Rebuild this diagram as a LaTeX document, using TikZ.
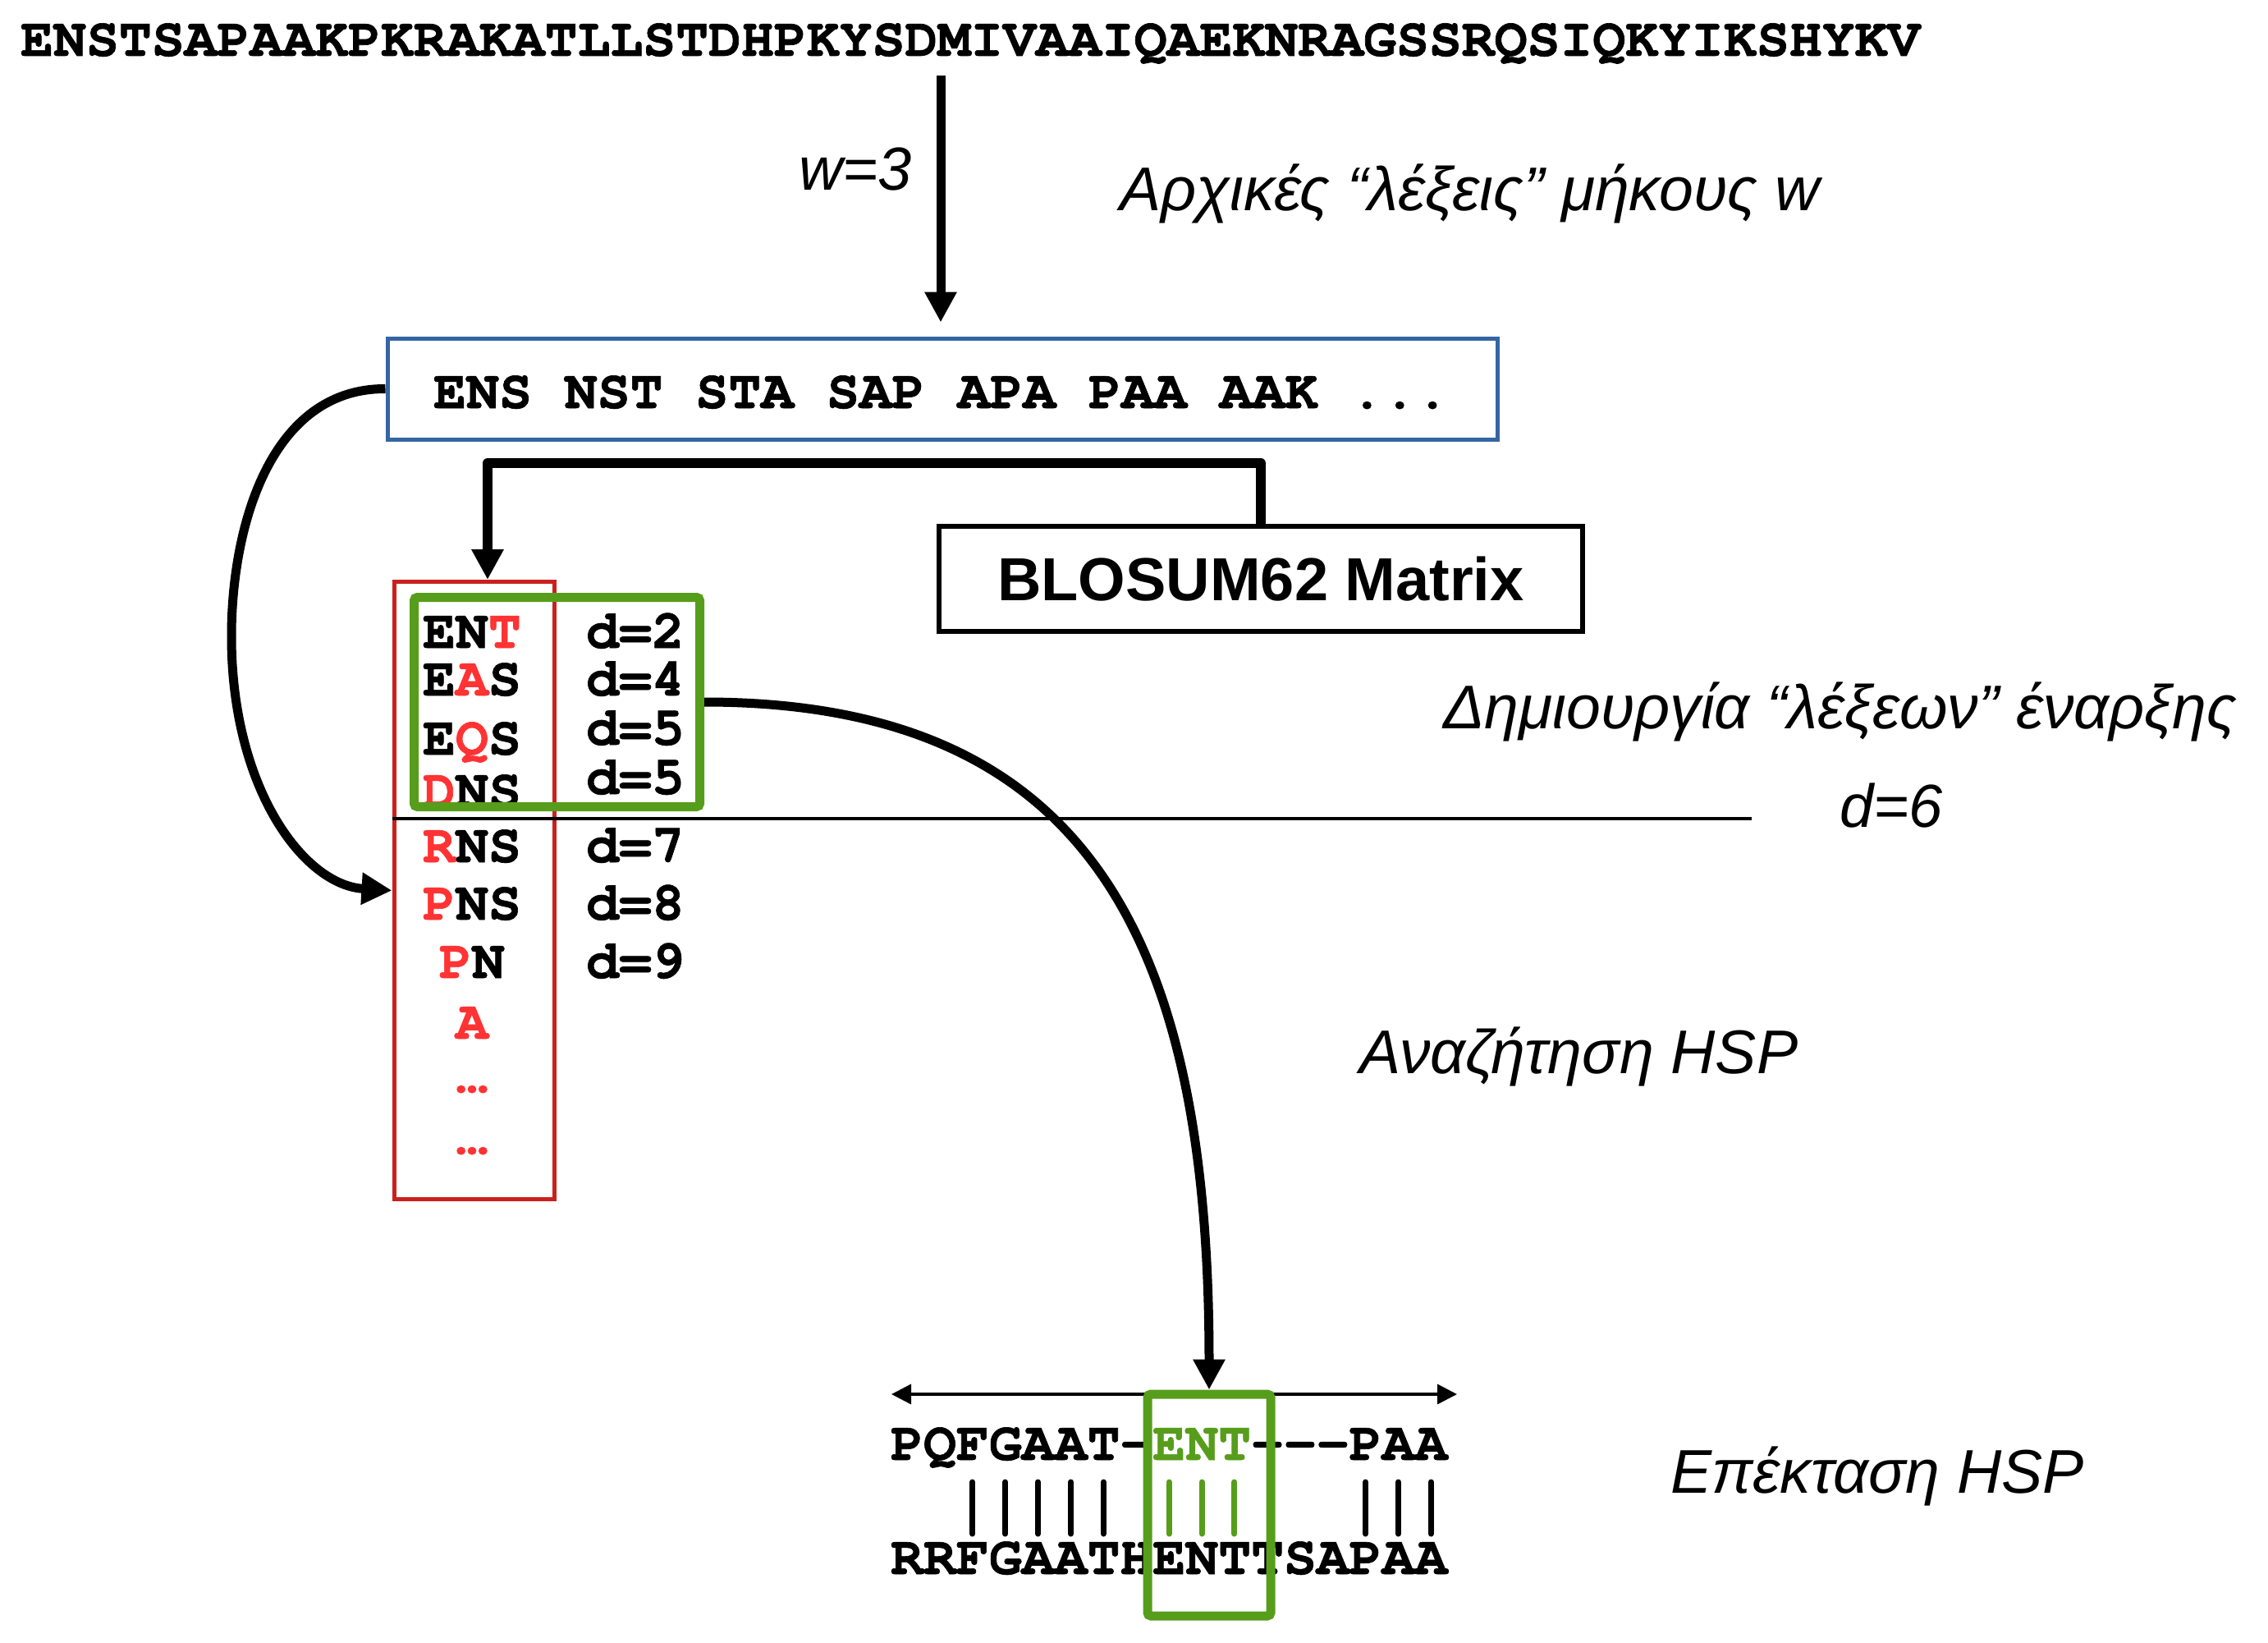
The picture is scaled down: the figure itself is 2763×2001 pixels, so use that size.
\documentclass[tikz,border=0pt]{standalone}
\usepackage{fontspec}
\setmainfont{Liberation Sans}
\setsansfont{Liberation Sans}
\setmonofont{texgyrecursor}[Extension=.otf, UprightFont=*-regular, BoldFont=*-bold, BoldFeatures={FakeBold=1}]
\usetikzlibrary{arrows.meta}
\definecolor{boxblue}{HTML}{3465A4}
\definecolor{boxred}{HTML}{C9211E}
\definecolor{lred}{HTML}{FF3333}
\definecolor{lgreen}{HTML}{579D1C}
\begin{document}
\begin{tikzpicture}[x=1pt,y=-1pt,
  mono/.style={font=\ttfamily\bfseries\fontsize{66.5}{70}\selectfont, inner sep=0pt},
  greek/.style={font=\sffamily\itshape\fontsize{75.2}{80}\selectfont, inner sep=0pt, anchor=base west},
  sansit/.style={font=\sffamily\itshape\fontsize{74}{80}\selectfont, inner sep=0pt, anchor=base west},
  conn/.style={line width=11pt, -{Triangle[length=37pt,width=37pt]}},
  gbox/.style={draw=lgreen, line width=11pt, rounded corners=4pt},
  bar/.style={line width=7pt, line cap=round},
]
\useasboundingbox (0,0) rectangle (2763,2001);

% top sequence
\node[mono, anchor=base west] (seq) at (25,68) {ENSTSAPAAKPKRAKATLLSTDHPKYSDMIVAAIQAEKNRAGSSRQSIQKYIKSHYKV};
\node[sansit] (w3) at (973,232) {w=3};
\node[greek] (lab1) at (1364,257) {Αρχικές “λέξεις” μήκους w};

% words box
\node[draw=boxblue, line width=5pt, minimum width=1352pt, minimum height=123pt, inner sep=0pt] (words) at (1148,473.5) {};
\node[mono, anchor=base west] (wordstxt) at (528,497) {ENS NST STA SAP APA PAA AAK ...};

\coordinate (topx) at (1146,0);
\draw[conn, shorten <=14pt, shorten >=17pt] (seq.south -| topx) -- (words.north -| topx);

% BLOSUM box
\node[draw, line width=6pt, minimum width=784pt, minimum height=128pt, inner sep=0pt,
      font=\sffamily\bfseries\fontsize{74}{80}\selectfont] (blosum) at (1536,705) {BLOSUM62 Matrix};

% red list box
\node[draw=boxred, line width=5pt, minimum width=195pt, minimum height=752pt, inner sep=0pt] (redbox) at (577.5,1084.5) {};

\coordinate (elb) at (594,564);
\draw[conn, line width=12pt, line join=round] (blosum.north) |- (elb) -- (elb |- redbox.north);

% list entries
\node[mono, anchor=base] (r1) at (575,789) {EN\textcolor{lred}{T}};
\node[mono, anchor=base] (r2) at (575,847) {E\textcolor{lred}{A}S};
\node[mono, anchor=base] (r3) at (575,919) {E\textcolor{lred}{Q}S};
\node[mono, anchor=base] (r4) at (575,983) {\textcolor{lred}{D}NS};
\node[mono, anchor=base] (r5) at (575,1050) {\textcolor{lred}{R}NS};
\node[mono, anchor=base] (r6) at (575,1120) {\textcolor{lred}{P}NS};
\node[mono, anchor=base] (r7) at (575,1191) {\textcolor{lred}{P}N};
\node[mono, anchor=base, text=lred] (r8) at (575,1265) {A};
\node[mono, anchor=base, text=lred] (r9) at (575,1330) {…};
\node[mono, anchor=base, text=lred] (r10) at (575,1405) {…};

\node[mono, anchor=base west] (d1) at (714,789) {d=2};
\node[mono, anchor=base west] (d2) at (714,847) {d=4};
\node[mono, anchor=base west] (d3) at (714,907) {d=5};
\node[mono, anchor=base west] (d4) at (714,967) {d=5};
\node[mono, anchor=base west] (d5) at (714,1050) {d=7};
\node[mono, anchor=base west] (d6) at (714,1120) {d=8};
\node[mono, anchor=base west] (d7) at (714,1191) {d=9};

% threshold line
\coordinate (thr) at (2134,997);
\draw[line width=4.5pt] (redbox.west |- thr) -- (thr);
\node[sansit] (d6lab) at (2241,1007) {d=6};
\node[greek] (lab2) at (1758,887) {Δημιουργία “λέξεων” έναρξης};

% green selection box
\node[gbox, minimum width=348pt, minimum height=255pt, inner sep=0pt] (green1) at (678.5,855) {};

% left curved arrow
\draw[conn] (words.west) .. controls (330,473) and (282,640) .. (282,775)
  .. controls (282,960) and (370,1078) .. (redbox.west);

\node[greek] (lab3) at (1656,1307) {Αναζήτηση HSP};
\node[greek] (lab4) at (2035,1818) {Επέκταση HSP};

% alignment
\node[mono, anchor=base west] (al1) at (1085,1778) {PQFGAAT-\textcolor{lgreen}{ENT}---PAA};
\node[mono, anchor=base west] (al2) at (1085,1917) {RRFGAATHENTTSAPAA};
\foreach \i in {2,3,4,5,6,14,15,16} {
  \draw[bar] ({1085+39.9*(\i+0.5)},1805) -- ({1085+39.9*(\i+0.5)},1868);
}
\foreach \i in {8,9,10} {
  \draw[bar, draw=lgreen] ({1085+39.9*(\i+0.5)},1805) -- ({1085+39.9*(\i+0.5)},1868);
}
\coordinate (dl) at (1086,1698);
\coordinate (dr) at (1775,1698);
\draw[line width=3.5pt, {Triangle[length=24pt,width=24pt]}-{Triangle[length=24pt,width=24pt]}] (dl) -- (dr);

\node[gbox, minimum width=150pt, minimum height=270pt, inner sep=0pt] (green2) at (1473,1833) {};

% big curved arrow
\draw[conn] (green1.east) .. controls (1330,855) and (1473,1150) .. (green2.north);
\end{tikzpicture}
\end{document}
